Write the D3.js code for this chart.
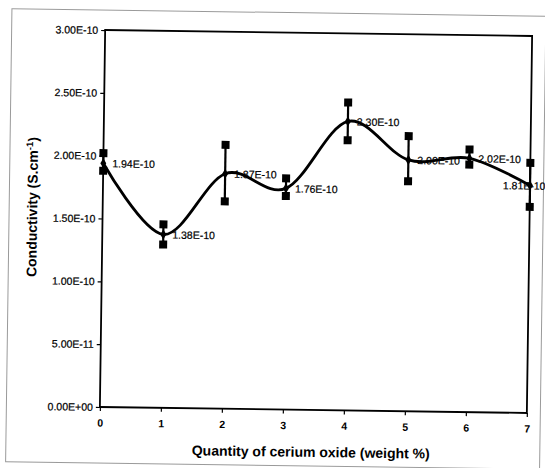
<!DOCTYPE html>
<html>
<head>
<meta charset="utf-8">
<script src="https://cdn.jsdelivr.net/npm/d3@7"></script>
<style>
  html, body { margin: 0; padding: 0; background: #fff; }
  svg { display: block; }
  text { font-family: "Liberation Sans", Arial, sans-serif; fill: #000; }
</style>
</head>
<body>
<div id="chart"></div>
<script>
// Conductivity of the membrane vs. cerium oxide loading
const loadings = [0, 1, 2, 3, 4, 5, 6, 7];                 // weight %
const conductivity = [1.94e-10, 1.38e-10, 1.87e-10, 1.76e-10, 2.30e-10, 2.00e-10, 2.02e-10, 1.81e-10];
const upperValues = [2.02e-10, 1.46e-10, 2.10e-10, 1.84e-10, 2.45e-10, 2.19e-10, 2.09e-10, 1.99e-10];
const lowerValues = [1.88e-10, 1.30e-10, 1.65e-10, 1.70e-10, 2.15e-10, 1.83e-10, 1.97e-10, 1.64e-10];
const labelTexts = ["1.94E-10", "1.38E-10", "1.87E-10", "1.76E-10", "2.30E-10", "2.00E-10", "2.02E-10", "1.81E-10"];
const yTickValues = [0, 5e-11, 1e-10, 1.5e-10, 2e-10, 2.5e-10, 3e-10];
const yTickLabels = ["0.00E+00", "5.00E-11", "1.00E-10", "1.50E-10", "2.00E-10", "2.50E-10", "3.00E-10"];
const xTickValues = [0, 1, 2, 3, 4, 5, 6, 7];

const width = 545, height = 468;
const plot = { left: 102.5, right: 529.5, top: 33, bottom: 410 };
const cx = (plot.left + plot.right) / 2, cy = (plot.top + plot.bottom) / 2;

const svg = d3.select("#chart").append("svg")
  .attr("width", width).attr("height", height);

svg.append("rect").attr("width", width).attr("height", height).attr("fill", "#fff");

// whole sheet sits slightly tilted on the page
const root = svg.append("g").attr("transform", `rotate(0.8 ${cx} ${cy})`);

// outer chart-area frame
root.append("rect")
  .attr("x", 9).attr("y", 13).attr("width", 534).attr("height", 453)
  .attr("fill", "none").attr("stroke", "#9a9a9a").attr("stroke-width", 1);

const x = d3.scaleLinear().domain([0, 7]).range([plot.left, plot.right]);
const y = d3.scaleLinear().domain([0, 3e-10]).range([plot.bottom, plot.top]);

// plot-area border
root.append("rect")
  .attr("x", plot.left).attr("y", plot.top)
  .attr("width", plot.right - plot.left).attr("height", plot.bottom - plot.top)
  .attr("fill", "none").attr("stroke", "#000").attr("stroke-width", 1.8);

// axes
const yAxis = d3.axisLeft(y).tickValues(yTickValues)
  .tickFormat((d, i) => yTickLabels[i]).tickSize(4).tickPadding(3);
const gy = root.append("g").attr("transform", `translate(${plot.left},0)`).call(yAxis);
gy.select(".domain").remove();
gy.selectAll("line").attr("stroke", "#000").attr("stroke-width", 1.2);
gy.selectAll("text").attr("font-size", 10.5).attr("font-family", "Liberation Sans, Arial, sans-serif")
  .attr("stroke", "#000").attr("stroke-width", 0.2);

const xAxis = d3.axisBottom(x).tickValues(xTickValues)
  .tickFormat(d3.format("d")).tickSize(4).tickPadding(8);
const gx = root.append("g").attr("transform", `translate(0,${plot.bottom})`).call(xAxis);
gx.select(".domain").remove();
gx.selectAll("line").attr("stroke", "#000").attr("stroke-width", 1.2);
gx.selectAll("text").attr("font-size", 10.5).attr("font-weight", "bold")
  .attr("font-family", "Liberation Sans, Arial, sans-serif");

// axis titles
root.append("text")
  .attr("x", 314).attr("y", 457)
  .attr("text-anchor", "middle").attr("font-size", 14).attr("font-weight", "bold")
  .text("Quantity of cerium oxide (weight %)");

const yTitle = root.append("text")
  .attr("transform", `translate(37,211) rotate(-90)`)
  .attr("text-anchor", "middle").attr("font-size", 14).attr("font-weight", "bold");
yTitle.append("tspan").text("Conductivity (S.cm");
yTitle.append("tspan").attr("dy", -5).attr("font-size", 9.5).text("-1");
yTitle.append("tspan").attr("dy", 5).text(")");

const rows = loadings.map((l, i) => ({
  x: l, v: conductivity[i], hi: upperValues[i], lo: lowerValues[i], label: labelTexts[i]
}));

// error bars
root.append("g").selectAll("line").data(rows).join("line")
  .attr("x1", d => x(d.x)).attr("x2", d => x(d.x))
  .attr("y1", d => y(d.hi)).attr("y2", d => y(d.lo))
  .attr("stroke", "#000").attr("stroke-width", 2.2);

const sq = 8;
root.append("g").selectAll("rect").data(rows.flatMap(d => [{ x: d.x, v: d.hi }, { x: d.x, v: d.lo }]))
  .join("rect")
  .attr("x", d => x(d.x) - sq / 2).attr("y", d => y(d.v) - sq / 2)
  .attr("width", sq).attr("height", sq).attr("fill", "#000");

// smoothed conductivity curve
const line = d3.line().x(d => x(d.x)).y(d => y(d.v)).curve(d3.curveCardinal.tension(0));
root.append("path").datum(rows)
  .attr("d", line).attr("fill", "none").attr("stroke", "#000").attr("stroke-width", 2.8);

// point markers
root.append("g").selectAll("path").data(rows).join("path")
  .attr("d", d3.symbol(d3.symbolDiamond, 30))
  .attr("transform", d => `translate(${x(d.x)},${y(d.v)})`)
  .attr("fill", "#000");

// value labels
root.append("g").selectAll("text").data(rows).join("text")
  .attr("x", (d, i) => i === rows.length - 1 ? 545 : x(d.x) + 9)
  .attr("y", d => y(d.v) + 4)
  .attr("text-anchor", (d, i) => i === rows.length - 1 ? "end" : "start")
  .attr("font-size", 10.5)
  .attr("stroke", "#000").attr("stroke-width", 0.2)
  .text(d => d.label);
</script>
</body>
</html>
